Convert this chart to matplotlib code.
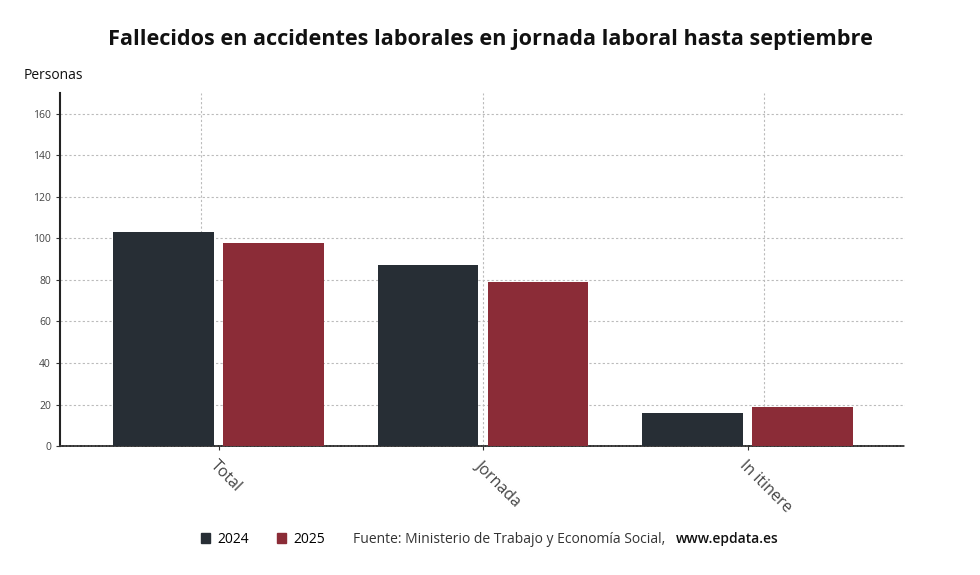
import numpy as np
import matplotlib.pyplot as plt
from matplotlib.patches import Patch

plt.rcParams['font.family'] = ['Open Sans', 'DejaVu Sans']

categorias = ["Total", "Jornada", "In itinere"]
valores_2024 = [103, 87, 16]
valores_2025 = [98, 79, 19]
yticks = [0, 20, 40, 60, 80, 100, 120, 140, 160]

c2024 = "#272e35"
c2025 = "#8b2c37"

fig = plt.figure(figsize=(9.8, 5.75), dpi=100)
ax = fig.add_axes([0.0612, 0.2243, 0.8623, 0.6137])

x = np.arange(len(categorias))
w = 0.38
ax.bar(x - 0.208, valores_2024, w, color=c2024, zorder=3)
ax.bar(x + 0.208, valores_2025, w, color=c2025, zorder=3)

ax.set_xlim(-0.6, 2.595)
ax.set_ylim(0, 170)
ax.set_yticks(yticks)
ax.set_xticks(x)
ax.set_xticklabels(categorias, rotation=-45, ha='left', va='top',
                   rotation_mode='anchor', fontsize=11.5, color='#444444')
ax.tick_params(axis='y', labelsize=7.5, labelcolor='#444444', length=3,
               color='#333333')
ax.tick_params(axis='x', length=3, color='#333333', pad=5)

# rejilla
ax.grid(axis='y', linestyle=(0, (2, 2)), color='#bbbbbb', linewidth=0.8, zorder=0)
for fx in [1/6, 1/2, 5/6]:
    ax.plot([fx, fx], [0, 1], transform=ax.transAxes, linestyle=(0, (2, 2)),
            color='#bbbbbb', linewidth=0.8, zorder=0)

for s in ['top', 'right']:
    ax.spines[s].set_visible(False)
ax.spines['left'].set_color('#222222')
ax.spines['left'].set_linewidth(1.5)
ax.spines['bottom'].set_color('#333333')
ax.spines['bottom'].set_linewidth(1.3)
ax.spines['bottom'].set_linestyle((0, (1.2, 0.8)))

fig.text(0.5, 0.932, "Fallecidos en accidentes laborales en jornada laboral hasta septiembre",
         ha='center', va='center', fontsize=15.6, fontweight='bold', color='#111111')
fig.text(0.024, 0.868, "Personas", ha='left', va='center', fontsize=10, color='#111111')

handles = [Patch(color=c2024, label="2024"), Patch(color=c2025, label="2025")]
fig.legend(handles=handles, loc='center left', bbox_to_anchor=(0.192, 0.0626),
           ncol=2, frameon=False, fontsize=10, handlelength=0.7, handleheight=0.7,
           handletextpad=0.5, columnspacing=2.0)
fig.text(0.360, 0.0626, "Fuente: Ministerio de Trabajo y Economía Social, ",
         ha='left', va='center', fontsize=10, color='#333333')
fig.text(0.690, 0.0626, "www.epdata.es", ha='left', va='center', fontsize=10,
         color='#111111', fontweight='semibold')

fig.savefig("out.png", dpi=100)
